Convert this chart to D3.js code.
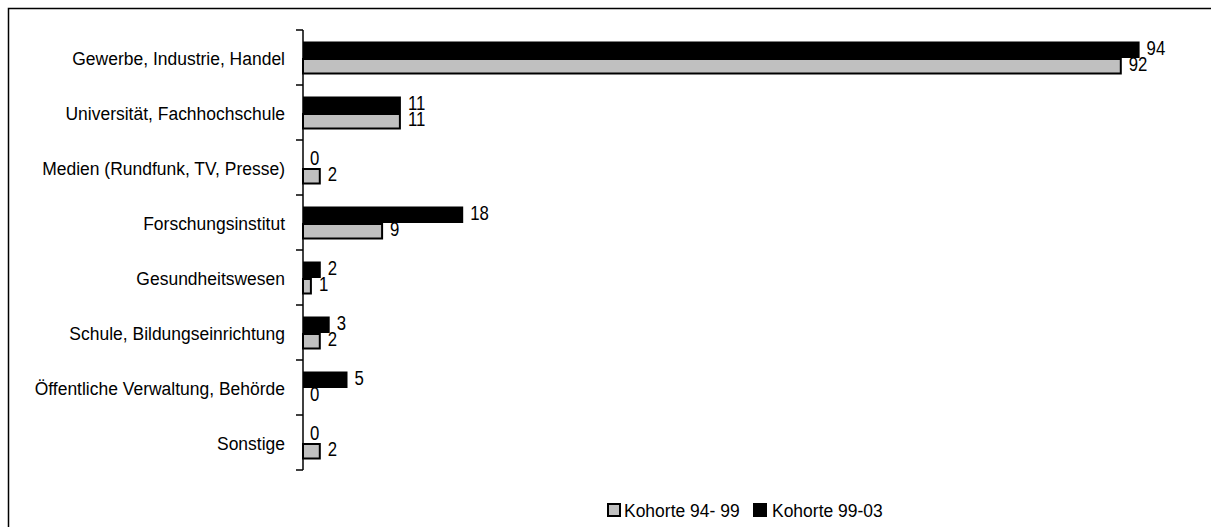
<!DOCTYPE html>
<html><head><meta charset="utf-8">
<script src="https://cdn.jsdelivr.net/npm/d3@7"></script>
<style>body{margin:0;background:#fff}svg{display:block}text{font-family:"Liberation Sans",Arial,sans-serif}</style>
</head><body>
<svg id="c" width="1211" height="527"></svg>
<script>
const categories = ["Gewerbe, Industrie, Handel","Universität, Fachhochschule","Medien (Rundfunk, TV, Presse)","Forschungsinstitut","Gesundheitswesen","Schule, Bildungseinrichtung","Öffentliche Verwaltung, Behörde","Sonstige"];
const kohorte9903 = [94, 11, 0, 18, 2, 3, 5, 0];
const kohorte9499 = [92, 11, 2, 9, 1, 2, 0, 2];
const seriesNames = ["Kohorte 94- 99", "Kohorte 99-03"];

const svg = d3.select("#c");
svg.append("rect").attr("x",8.5).attr("y",8.5).attr("width",1220).attr("height",540)
  .attr("fill","none").attr("stroke","#000").attr("stroke-width",1.5);

const x = d3.scaleLinear().domain([0,100]).range([303, 303+890]);
const y0 = d3.scaleBand().domain(categories).range([30,470]).padding(0);
const y1 = d3.scaleBand().domain(["k9903","k9499"]).range([11.5,44.5]).padding(0);

const series = [
  {key:"k9903", values:kohorte9903, fill:"#000", stroke:"none"},
  {key:"k9499", values:kohorte9499, fill:"#c0c0c0", stroke:"#000"}
];

const g = svg.append("g");
series.forEach(s=>{
  categories.forEach((c,i)=>{
    const v = s.values[i];
    const yy = y0(c)+y1(s.key);
    const h = y1.bandwidth();
    if (v>0){
      if (s.stroke==="none"){
        g.append("rect").attr("x",x(0)).attr("y",yy).attr("width",x(v)-x(0)).attr("height",h).attr("fill",s.fill);
      } else {
        g.append("rect").attr("x",x(0)).attr("y",yy+1).attr("width",x(v)-x(0)-1).attr("height",h-2)
          .attr("fill",s.fill).attr("stroke",s.stroke).attr("stroke-width",2);
      }
    }
    g.append("text").attr("transform",`translate(${x(v)+7},${yy+h/2-1.5}) scale(0.86,1)`)
      .attr("dominant-baseline","central")
      .attr("font-size",19.5).attr("fill","#000").text(v);
  });
});

// axis
const ax = svg.append("g");
ax.append("line").attr("x1",303).attr("x2",303).attr("y1",30).attr("y2",470).attr("stroke","#000").attr("stroke-width",1.5);
const bounds = categories.map(c=>y0(c)).concat([y0.range()[1]]);
bounds.forEach(b=>{
  ax.append("line").attr("x1",296).attr("x2",303).attr("y1",b).attr("y2",b).attr("stroke","#000").attr("stroke-width",1.5);
});
categories.forEach(c=>{
  ax.append("text").attr("transform",`translate(285,${y0(c)+y0.bandwidth()/2+1}) scale(0.92,1)`).attr("text-anchor","end")
    .attr("dominant-baseline","central").attr("font-size",19).attr("fill","#000").text(c);
});

// legend
const lg = svg.append("g");
lg.append("rect").attr("x",608).attr("y",504).attr("width",12).attr("height",12).attr("fill","#c0c0c0").attr("stroke","#000").attr("stroke-width",2);
lg.append("text").attr("transform","translate(624,510) scale(0.92,1)").attr("dominant-baseline","central").attr("font-size",19).text(seriesNames[0]);
lg.append("rect").attr("x",753).attr("y",503).attr("width",14).attr("height",14).attr("fill","#000");
lg.append("text").attr("transform","translate(772,510) scale(0.92,1)").attr("dominant-baseline","central").attr("font-size",19).text(seriesNames[1]);
</script>
</body></html>
